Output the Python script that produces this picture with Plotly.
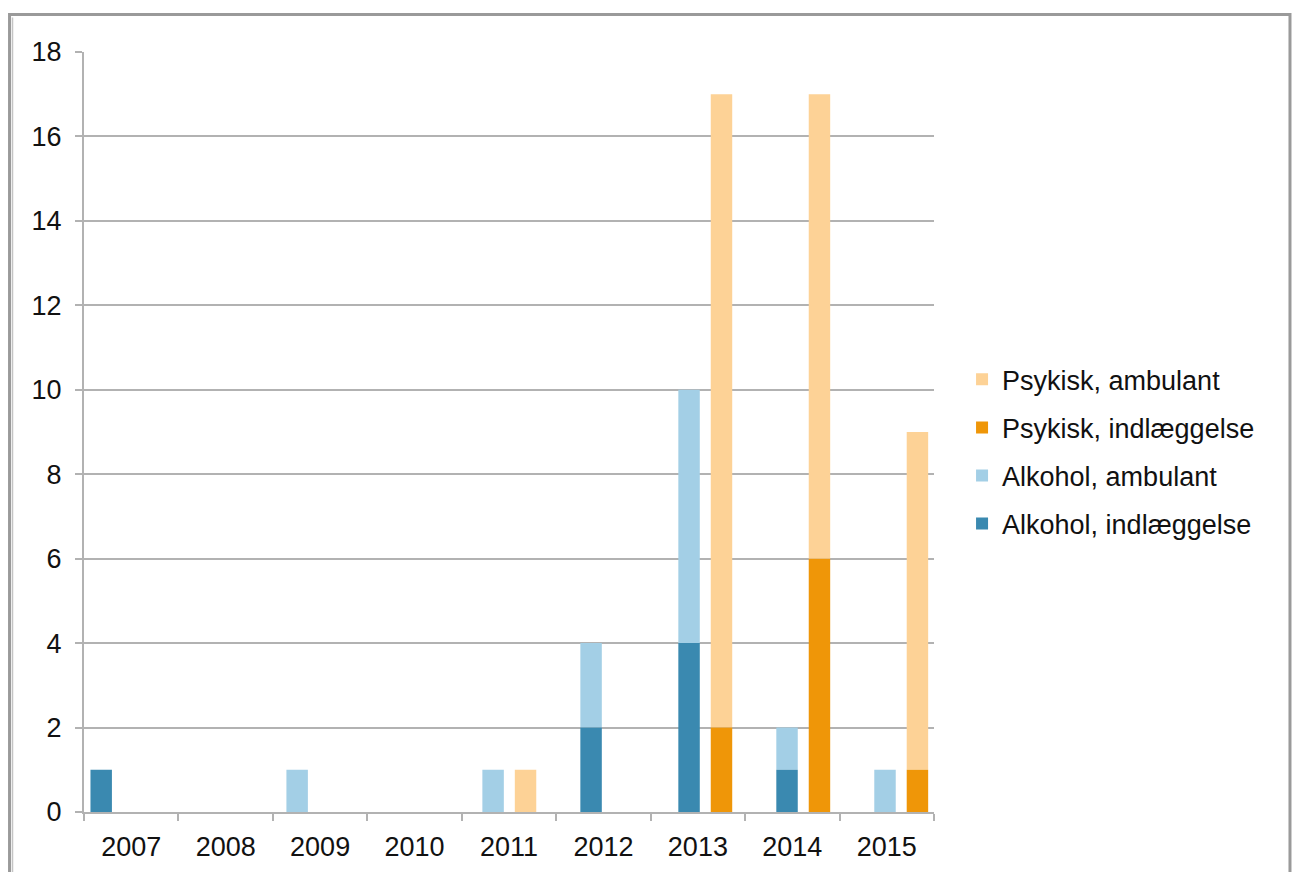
import plotly.graph_objects as go

years = [2007, 2008, 2009, 2010, 2011, 2012, 2013, 2014, 2015]
year_labels = [str(y) for y in years]

alkohol_indl = [1, 0, 0, 0, 0, 2, 4, 1, 0]
alkohol_amb = [0, 0, 1, 0, 1, 2, 6, 1, 1]
psykisk_indl = [0, 0, 0, 0, 0, 0, 2, 6, 1]
psykisk_amb = [0, 0, 0, 0, 1, 0, 15, 11, 8]

y_ticks = [0, 2, 4, 6, 8, 10, 12, 14, 16, 18]

C_ALK_INDL = "#3a89b0"
C_ALK_AMB = "#a3cfe6"
C_PSY_INDL = "#ef9608"
C_PSY_AMB = "#fdd296"

FONT = "Liberation Sans, Arial, Helvetica, sans-serif"
FS = 27
GRID = "#b2b2b2"

BAR_W = 0.219
ALK_OFF = -0.1095
PSY_OFF = 0.2215

fig = go.Figure()

def add_bar(name, vals, base, color, off):
    fig.add_trace(go.Bar(
        x=years, y=vals, base=base, name=name,
        marker=dict(color=color, line=dict(width=0)),
        width=BAR_W, offset=off, legendgroup=name,
        xaxis="x", yaxis="y",
    ))

add_bar("Psykisk, ambulant", psykisk_amb, psykisk_indl, C_PSY_AMB, PSY_OFF)
add_bar("Psykisk, indlæggelse", psykisk_indl, None, C_PSY_INDL, PSY_OFF)
add_bar("Alkohol, ambulant", alkohol_amb, alkohol_indl, C_ALK_AMB, ALK_OFF)
add_bar("Alkohol, indlæggelse", alkohol_indl, None, C_ALK_INDL, ALK_OFF)

# invisible trace to carry the category axis with year labels
fig.add_trace(go.Scatter(
    x=year_labels, y=[0] * len(year_labels), mode="markers",
    marker=dict(opacity=0), showlegend=False, hoverinfo="skip",
    xaxis="x2", yaxis="y",
))

fig.update_layout(
    width=1293, height=872,
    margin=dict(l=84, r=359, t=52, b=60, autoexpand=False),
    paper_bgcolor="white", plot_bgcolor="white",
    barmode="overlay",
    font=dict(family=FONT, size=FS, color="#111111"),
    xaxis=dict(
        range=[2006.8245, 2015.5], visible=False, showgrid=False, zeroline=False,
        automargin=False,
    ),
    xaxis2=dict(
        type="category", categoryorder="array", categoryarray=year_labels,
        range=[-0.5, len(year_labels) - 0.5],
        overlaying="x", anchor="y", side="bottom",
        showgrid=False, zeroline=False, automargin=False,
        showline=True, linecolor=GRID, linewidth=2,
        ticks="outside", tickson="boundaries", ticklen=7, tickwidth=2, tickcolor=GRID,
        ticklabelstandoff=10,
        tickfont=dict(family=FONT, size=FS, color="#111111"),
    ),
    yaxis=dict(
        range=[0, 18], tickvals=y_ticks, ticktext=[str(v) for v in y_ticks],
        showgrid=True, gridcolor=GRID, gridwidth=2,
        zeroline=False, automargin=False,
        showline=True, linecolor=GRID, linewidth=2,
        ticks="outside", ticklen=7, tickwidth=2, tickcolor=GRID,
        ticklabelstandoff=8,
        tickfont=dict(family=FONT, size=FS, color="#111111"),
    ),
    legend=dict(
        x=1.033, xanchor="left", y=0.474, yanchor="middle",
        traceorder="grouped", tracegroupgap=10,
        font=dict(family=FONT, size=FS, color="#111111"),
        bgcolor="rgba(0,0,0,0)",
    ),
    shapes=[
        dict(type="rect", xref="paper", yref="paper",
             x0=-0.0876, x1=1.4188, y0=-0.2, y1=1.0493,
             line=dict(color="#9a9a9a", width=3), layer="below"),
        dict(type="line", xref="paper", yref="paper",
             x0=-0.0841, x1=-0.0841, y0=-0.2, y1=1.0455,
             line=dict(color="#c4c4c4", width=1.5), layer="below"),
    ],
)

fig.write_html("out.html")
